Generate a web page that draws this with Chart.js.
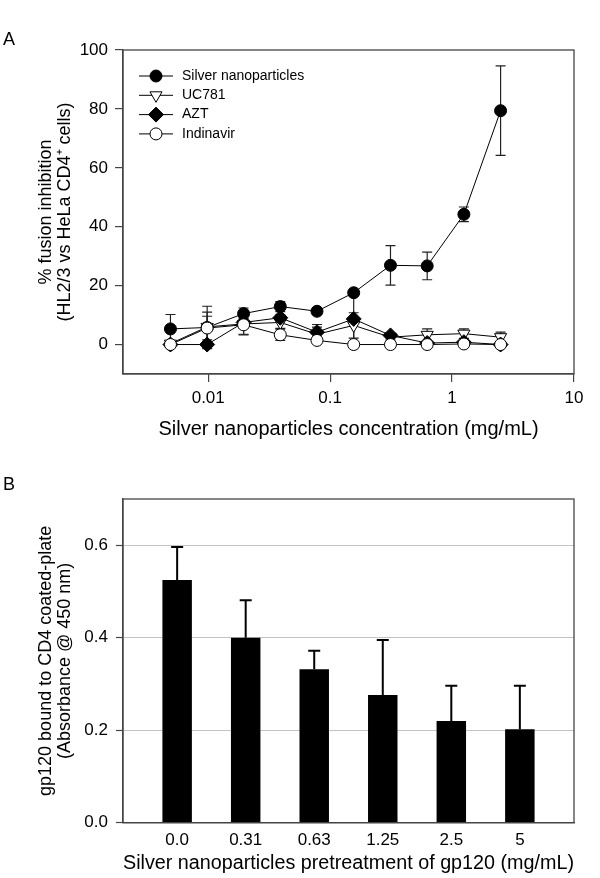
<!DOCTYPE html>
<html>
<head>
<meta charset="utf-8">
<script src="https://cdn.jsdelivr.net/npm/chart.js@4.4.0/dist/chart.umd.min.js"></script>
<style>
  html, body { margin: 0; padding: 0; background: #fff; }
  body { width: 600px; height: 878px; position: relative; overflow: hidden;
         font-family: "Liberation Sans", Arial, sans-serif; }
  .panel { position: absolute; left: 0; width: 600px; }
  #panel-a { top: 0; height: 450px; }
  #panel-b { top: 450px; height: 428px; }
  .letter { position: absolute; left: 3px; z-index: 2; font-size: 18px; line-height: 18px; color: #000; }
</style>
</head>
<body>
<div class="letter" style="top:30px">A</div>
<div class="letter" style="top:475px">B</div>
<div class="panel" id="panel-a"><canvas id="chart-a"></canvas></div>
<div class="panel" id="panel-b"><canvas id="chart-b"></canvas></div>
<script>
/* ---------- Panel A: fusion inhibition vs concentration ---------- */
const concentrations = [0.0049, 0.0098, 0.0195, 0.039, 0.078, 0.156, 0.3125, 0.625, 1.25, 2.5];
const seriesNames = ['Silver nanoparticles', 'UC781', 'AZT', 'Indinavir'];

const silverVals = [5.3, 5.8, 10.5, 12.9, 11.3, 17.6, 26.9, 26.7, 44.2, 79.4];
const silverErr  = [4.9, 7.2, 1.9, 1.7, 1.0, 1.0, 6.7, 4.7, 2.5, 15.2];
const uc781Vals  = [0.3, 6.0, 7.0, 7.5, 3.5, 6.5, 2.5, 3.3, 3.7, 2.5];
const uc781Err   = [0.5, 5.0, 3.5, 2.0, 2.4, 4.3, 1.0, 2.0, 1.6, 1.7];
const aztVals    = [0.0, 0.0, 7.5, 9.1, 4.2, 8.7, 3.1, 0.5, 0.8, 0.0];
const aztErr     = [0.0, 0.0, 1.5, 1.0, 2.6, 8.9, 0.8, 0.5, 0.5, 0.3];
const indinVals  = [0.0, 5.6, 6.7, 3.3, 1.4, 0.0, 0.0, 0.0, 0.2, 0.0];
const indinErr   = [0.5, 4.0, 3.4, 1.9, 1.0, 0.3, 0.3, 0.5, 0.5, 0.8];

const xTicksA = [0.01, 0.1, 1, 10];
const yTicksA = [0, 20, 40, 60, 80, 100];
const xTitleA = 'Silver nanoparticles concentration (mg/mL)';
const yTitleA = ['% fusion inhibition', '(HL2/3 vs HeLa CD4\u207A cells)'];

/* ---------- Panel B: gp120 binding after pretreatment ---------- */
const pretreatLabels = ['0.0', '0.31', '0.63', '1.25', '2.5', '5'];
const gp120Bound = [0.525, 0.400, 0.332, 0.276, 0.220, 0.202];
const gp120Err   = [0.071, 0.081, 0.040, 0.119, 0.076, 0.094];
const yTicksB = [0, 0.2, 0.4, 0.6];
const xTitleB = 'Silver nanoparticles pretreatment of gp120 (mg/mL)';
const yTitleB = ['gp120 bound to CD4 coated-plate', '(Absorbance @ 450 nm)'];

const AXIS = '#454545';
const FONT = '"Liberation Sans", Arial, sans-serif';
Chart.defaults.font.family = FONT;
Chart.defaults.color = '#000';

// full rectangle round the plot area
const boxFrame = {
  id: 'boxFrame',
  afterDraw(chart) {
    const { ctx, chartArea: a } = chart;
    ctx.save();
    ctx.strokeStyle = AXIS;
    ctx.lineWidth = 1.3;
    ctx.strokeRect(a.left, a.top, a.right - a.left, a.bottom - a.top);
    ctx.restore();
  }
};

// symmetric error bars drawn under the markers
const errorBarsA = {
  id: 'errorBarsA',
  beforeDatasetsDraw(chart) {
    const { ctx, scales: { x, y } } = chart;
    ctx.save();
    ctx.strokeStyle = '#222';
    ctx.lineWidth = 1.2;
    chart.data.datasets.forEach(ds => {
      ds.errors.forEach((e, i) => {
        if (!e) return;
        const pt = ds.data[i];
        const px = x.getPixelForValue(pt.x);
        const top = y.getPixelForValue(pt.y + e);
        const bot = y.getPixelForValue(pt.y - e);
        ctx.beginPath();
        ctx.moveTo(px, top); ctx.lineTo(px, bot);
        ctx.moveTo(px - 5, top); ctx.lineTo(px + 5, top);
        ctx.moveTo(px - 5, bot); ctx.lineTo(px + 5, bot);
        ctx.stroke();
      });
    });
    ctx.restore();
  }
};

// legend sits inside the plot, line + marker samples
const insetLegend = {
  id: 'insetLegend',
  afterDatasetsDraw(chart) {
    const { ctx, chartArea: a } = chart;
    ctx.save();
    chart.data.datasets.forEach((ds, i) => {
      const cx = a.left + 33;
      const cy = a.top + 26 + i * 19.3;
      ctx.strokeStyle = '#000';
      ctx.lineWidth = 1;
      ctx.beginPath();
      ctx.moveTo(cx - 17, cy); ctx.lineTo(cx + 17, cy);
      ctx.stroke();
      ctx.fillStyle = ds.pointBackgroundColor;
      ctx.strokeStyle = ds.pointBorderColor;
      Chart.helpers.drawPoint(ctx, {
        pointStyle: ds.pointStyle, rotation: ds.pointRotation || 0,
        radius: ds.pointRadius, borderWidth: 1
      }, cx, cy);
      ctx.fillStyle = '#000';
      ctx.font = '14px ' + FONT;
      ctx.textAlign = 'left';
      ctx.textBaseline = 'middle';
      ctx.fillText(ds.label, cx + 26, cy);
    });
    ctx.restore();
  }
};

function series(i, vals, errs, style) {
  return Object.assign({
    label: seriesNames[i],
    data: concentrations.map((c, k) => ({ x: c, y: vals[k] })),
    errors: errs,
    borderColor: '#000',
    borderWidth: 1,
    pointBorderColor: '#000',
    pointBorderWidth: 1,
    pointRadius: 6,
    tension: 0
  }, style);
}

new Chart(document.getElementById('chart-a'), {
  type: 'line',
  data: {
    datasets: [
      series(0, silverVals, silverErr, { pointStyle: 'circle', pointBackgroundColor: '#000', order: 4 }),
      series(1, uc781Vals, uc781Err, { pointStyle: 'triangle', pointRotation: 180, pointRadius: 7, pointBackgroundColor: '#fff', order: 3 }),
      series(2, aztVals, aztErr, { pointStyle: 'rectRot', pointRadius: 7.5, pointBackgroundColor: '#000', order: 2 }),
      series(3, indinVals, indinErr, { pointStyle: 'circle', pointBackgroundColor: '#fff', order: 1 })
    ]
  },
  options: {
    responsive: true,
    maintainAspectRatio: false,
    animation: false,
    layout: { padding: { top: 50, right: 26, left: 0, bottom: 0 } },
    plugins: { legend: { display: false }, tooltip: { enabled: false } },
    scales: {
      x: {
        type: 'logarithmic',
        min: 0.002,
        max: 10,
        afterBuildTicks: s => { s.ticks = xTicksA.map(v => ({ value: v })); },
        afterFit: s => { s.height = 76; },
        ticks: { font: { size: 17 }, padding: 6, maxRotation: 0, autoSkip: false, callback: v => String(v) },
        grid: { drawOnChartArea: false, drawTicks: true, tickLength: 8, color: AXIS, lineWidth: 1.2 },
        border: { color: AXIS, width: 1.3 },
        title: { display: true, text: xTitleA, font: { size: 20 }, padding: { top: 0, bottom: 9 } }
      },
      y: {
        min: -10,
        max: 100,
        afterBuildTicks: s => { s.ticks = yTicksA.map(v => ({ value: v })); },
        afterFit: s => { s.width = 123; },
        ticks: { font: { size: 17 }, padding: 7 },
        grid: { drawOnChartArea: false, drawTicks: true, tickLength: 8, color: AXIS, lineWidth: 1.2 },
        border: { color: AXIS, width: 1.3 },
        title: { display: true, text: yTitleA, font: { size: 18, lineHeight: 1.05 }, padding: { top: 36.5, bottom: 0 } }
      }
    }
  },
  plugins: [errorBarsA, insetLegend, boxFrame]
});

// upward-only error bars on top of bars
const errorBarsB = {
  id: 'errorBarsB',
  afterDatasetsDraw(chart) {
    const { ctx, scales: { x, y } } = chart;
    const ds = chart.data.datasets[0];
    ctx.save();
    ctx.strokeStyle = '#000';
    ctx.lineWidth = 2;
    ds.data.forEach((pt, i) => {
      const px = x.getPixelForValue(pt.x);
      const base = y.getPixelForValue(pt.y);
      const top = y.getPixelForValue(pt.y + ds.errors[i]);
      ctx.beginPath();
      ctx.moveTo(px, base); ctx.lineTo(px, top);
      ctx.moveTo(px - 6, top); ctx.lineTo(px + 6, top);
      ctx.stroke();
    });
    ctx.restore();
  }
};

new Chart(document.getElementById('chart-b'), {
  type: 'bar',
  data: {
    datasets: [{
      label: 'gp120 bound',
      data: gp120Bound.map((v, i) => ({ x: i, y: v })),
      errors: gp120Err,
      backgroundColor: '#000',
      borderWidth: 0,
      barPercentage: 0.43,
      categoryPercentage: 1
    }]
  },
  options: {
    responsive: true,
    maintainAspectRatio: false,
    animation: false,
    layout: { padding: { top: 49, right: 26, left: 0, bottom: 0 } },
    plugins: { legend: { display: false }, tooltip: { enabled: false } },
    scales: {
      x: {
        type: 'linear',
        offset: false,
        min: -0.79,
        max: 5.79,
        afterBuildTicks: s => { s.ticks = pretreatLabels.map((_, i) => ({ value: i })); },
        afterFit: s => { s.height = 55.3; },
        ticks: { font: { size: 17 }, padding: 7, maxRotation: 0, autoSkip: false, callback: (v, i) => pretreatLabels[i] },
        grid: { display: false, drawTicks: false, offset: false },
        border: { color: AXIS, width: 1.3 },
        title: { display: true, text: xTitleB, font: { size: 20 }, padding: { top: 0, bottom: 2.5 } }
      },
      y: {
        min: 0,
        max: 0.7,
        afterBuildTicks: s => { s.ticks = yTicksB.map(v => ({ value: v })); },
        afterFit: s => { s.width = 123; },
        ticks: { font: { size: 17 }, padding: 8, callback: v => v.toFixed(1) },
        grid: {
          drawTicks: true, tickLength: 7, tickColor: AXIS, tickWidth: 1.2,
          color: c => (c.tick && c.tick.value === 0 ? 'rgba(0,0,0,0)' : '#c4c4c4'),
          lineWidth: 1
        },
        border: { color: AXIS, width: 1.3 },
        title: { display: true, text: yTitleB, font: { size: 18, lineHeight: 1.05 }, padding: { top: 36.5, bottom: 0 } }
      }
    }
  },
  plugins: [errorBarsB, boxFrame]
});
</script>
</body>
</html>
